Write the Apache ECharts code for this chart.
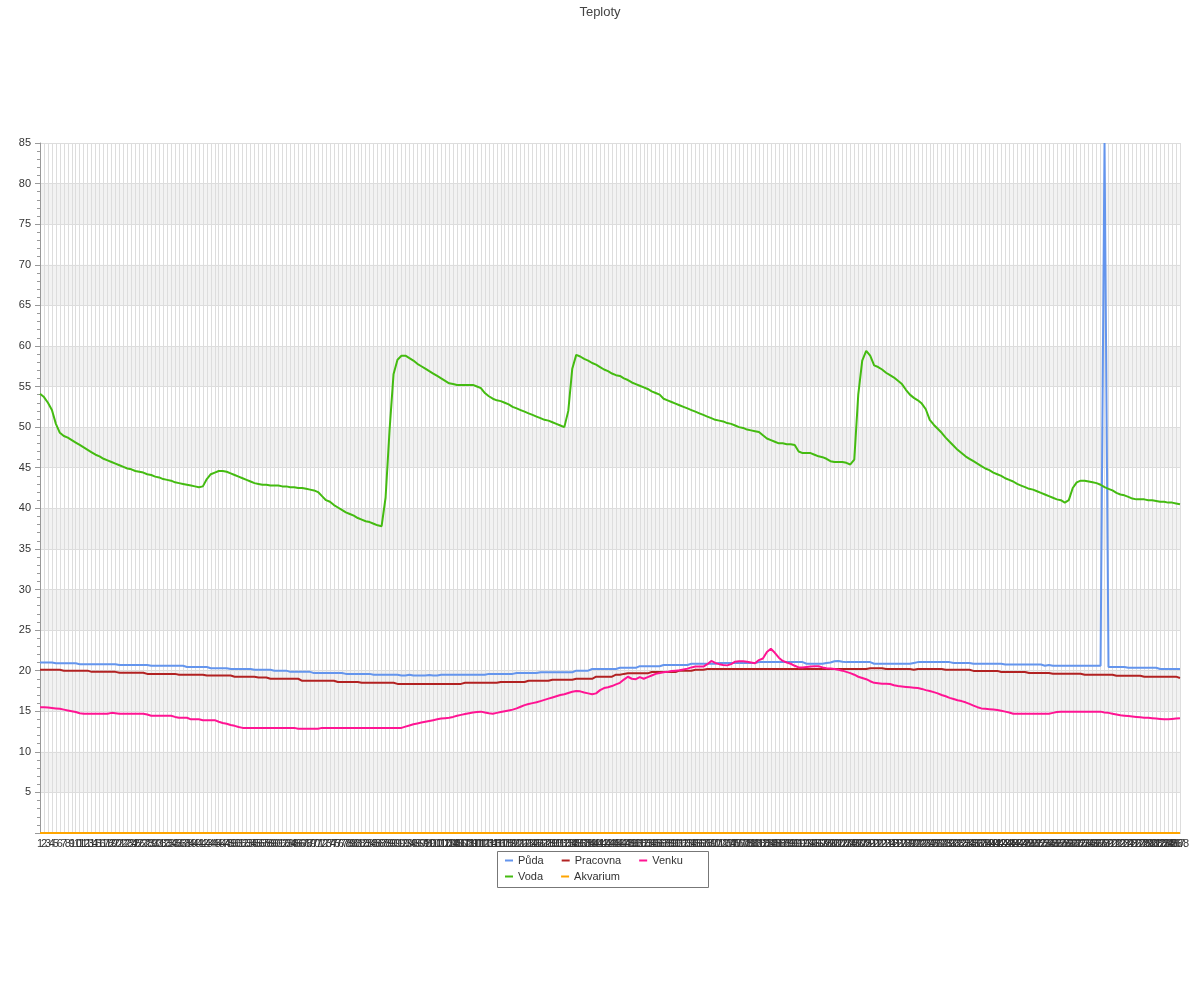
<!DOCTYPE html>
<html>
<head>
<meta charset="utf-8">
<script src="https://cdn.jsdelivr.net/npm/echarts@6/dist/echarts.min.js"></script>
<style>html,body{margin:0;padding:0;background:#fff;}#c{width:1200px;height:1000px;}</style>
</head>
<body>
<div id="c"></div>
<script>
var titleText = 'Teploty';
var seriesNames = ['Půda', 'Pracovna', 'Venku', 'Voda', 'Akvarium'];
var legendRow1 = ['Půda', 'Pracovna', 'Venku'];
var legendRow2 = ['Voda', 'Akvarium'];
var categories = Array.from({length: 288}, function (_, i) { return String(i + 1); });

var puda = [
21.0,21.0,21.0,21.0,20.9,20.9,20.9,20.9,20.9,20.9,
20.8,20.8,20.8,20.8,20.8,20.8,20.8,20.8,20.8,20.8,
20.7,20.7,20.7,20.7,20.7,20.7,20.7,20.7,20.6,20.6,
20.6,20.6,20.6,20.6,20.6,20.6,20.6,20.45,20.45,20.45,
20.45,20.45,20.45,20.3,20.3,20.3,20.3,20.3,20.2,20.2,
20.2,20.2,20.2,20.2,20.1,20.1,20.1,20.1,20.1,20.0,
20.0,20.0,20.0,19.85,19.85,19.85,19.85,19.85,19.85,19.7,
19.7,19.7,19.7,19.7,19.7,19.7,19.7,19.6,19.6,19.6,
19.6,19.6,19.6,19.6,19.5,19.5,19.5,19.5,19.5,19.5,
19.5,19.4,19.4,19.5,19.4,19.4,19.4,19.4,19.45,19.4,
19.4,19.5,19.5,19.5,19.5,19.5,19.5,19.5,19.5,19.5,
19.5,19.5,19.5,19.6,19.6,19.6,19.6,19.6,19.6,19.6,
19.7,19.7,19.7,19.7,19.7,19.7,19.8,19.8,19.8,19.8,
19.8,19.8,19.8,19.8,19.8,20.0,20.0,20.0,20.0,20.2,
20.2,20.2,20.2,20.2,20.2,20.2,20.35,20.35,20.35,20.35,
20.35,20.55,20.55,20.55,20.55,20.55,20.55,20.7,20.7,20.7,
20.7,20.7,20.7,20.7,20.85,20.85,20.85,20.85,20.85,20.85,
20.85,20.95,20.95,20.95,20.95,20.95,20.95,20.95,20.95,20.95,
20.95,21.05,21.05,21.05,21.05,21.05,21.05,21.05,21.05,21.05,
21.05,21.05,21.05,20.85,20.85,20.85,20.85,20.85,20.95,21.0,
21.15,21.2,21.1,21.05,21.05,21.05,21.05,21.05,21.05,21.05,
20.85,20.85,20.85,20.85,20.85,20.85,20.85,20.85,20.85,20.85,
20.95,21.05,21.05,21.05,21.05,21.05,21.05,21.05,21.05,21.05,
20.95,20.95,20.95,20.95,20.95,20.85,20.85,20.85,20.85,20.85,
20.85,20.85,20.85,20.75,20.75,20.75,20.75,20.75,20.75,20.75,
20.75,20.75,20.75,20.6,20.7,20.6,20.6,20.6,20.6,20.6,
20.6,20.6,20.6,20.6,20.6,20.6,20.6,20.6,85.0,20.45,
20.45,20.45,20.45,20.45,20.35,20.35,20.35,20.35,20.35,20.35,
20.35,20.35,20.2,20.2,20.2,20.2,20.2,20.2
];

var pracovna = [
20.1,20.1,20.1,20.1,20.1,20.1,20.0,20.0,20.0,20.0,
20.0,20.0,20.0,19.85,19.85,19.85,19.85,19.85,19.85,19.85,
19.75,19.75,19.75,19.75,19.75,19.75,19.75,19.6,19.6,19.6,
19.6,19.6,19.6,19.6,19.6,19.5,19.5,19.5,19.5,19.5,
19.5,19.5,19.4,19.4,19.4,19.4,19.4,19.4,19.4,19.25,
19.25,19.25,19.25,19.25,19.25,19.15,19.15,19.15,19.0,19.0,
19.0,19.0,19.0,19.0,19.0,19.0,18.75,18.75,18.75,18.75,
18.75,18.75,18.75,18.75,18.75,18.6,18.6,18.6,18.6,18.6,
18.6,18.5,18.5,18.5,18.5,18.5,18.5,18.5,18.5,18.5,
18.37,18.37,18.37,18.37,18.37,18.37,18.37,18.37,18.37,18.37,
18.37,18.37,18.37,18.37,18.37,18.37,18.37,18.5,18.5,18.5,
18.5,18.5,18.5,18.5,18.5,18.5,18.6,18.6,18.6,18.6,
18.6,18.6,18.6,18.75,18.75,18.75,18.75,18.75,18.75,18.88,
18.88,18.88,18.88,18.88,18.88,19.0,19.0,19.0,19.0,19.0,
19.26,19.26,19.26,19.26,19.26,19.5,19.5,19.6,19.67,19.67,
19.67,19.67,19.67,19.67,19.83,19.83,19.83,19.83,19.83,19.83,
19.83,20.0,20.0,20.0,20.0,20.1,20.1,20.1,20.2,20.2,
20.2,20.2,20.2,20.2,20.2,20.2,20.2,20.2,20.2,20.2,
20.2,20.2,20.2,20.2,20.2,20.2,20.2,20.2,20.2,20.2,
20.2,20.2,20.2,20.2,20.2,20.2,20.2,20.2,20.2,20.2,
20.2,20.2,20.2,20.2,20.2,20.2,20.2,20.2,20.2,20.3,
20.3,20.3,20.3,20.2,20.2,20.2,20.2,20.2,20.2,20.2,
20.1,20.2,20.2,20.2,20.2,20.2,20.2,20.2,20.1,20.1,
20.1,20.1,20.1,20.1,20.1,19.97,19.97,19.97,19.97,19.97,
19.97,19.97,19.83,19.83,19.83,19.83,19.83,19.83,19.83,19.7,
19.7,19.7,19.7,19.7,19.7,19.62,19.62,19.62,19.62,19.62,
19.62,19.62,19.62,19.5,19.5,19.5,19.5,19.5,19.5,19.5,
19.5,19.38,19.38,19.38,19.38,19.38,19.38,19.38,19.26,19.26,
19.26,19.26,19.26,19.26,19.26,19.26,19.26,19.1
];

var venku = [
15.5,15.5,15.45,15.4,15.35,15.3,15.2,15.1,15.0,14.9,
14.75,14.7,14.7,14.7,14.7,14.7,14.7,14.7,14.8,14.75,
14.7,14.7,14.7,14.7,14.7,14.7,14.7,14.6,14.45,14.45,
14.45,14.45,14.45,14.45,14.3,14.2,14.2,14.2,14.0,14.0,
14.0,13.9,13.9,13.9,13.9,13.7,13.55,13.45,13.3,13.2,
13.05,12.95,12.95,12.95,12.95,12.95,12.95,12.95,12.95,12.95,
12.95,12.95,12.95,12.95,12.95,12.85,12.85,12.85,12.85,12.85,
12.85,12.95,12.95,12.95,12.95,12.95,12.95,12.95,12.95,12.95,
12.95,12.95,12.95,12.95,12.95,12.95,12.95,12.95,12.95,12.95,
12.95,12.95,13.1,13.25,13.4,13.5,13.6,13.7,13.8,13.9,
14.0,14.1,14.15,14.2,14.3,14.45,14.55,14.65,14.75,14.85,
14.9,14.95,14.85,14.75,14.7,14.8,14.9,15.0,15.1,15.2,
15.35,15.55,15.75,15.9,16.0,16.1,16.25,16.4,16.55,16.7,
16.85,17.0,17.1,17.25,17.4,17.5,17.45,17.3,17.2,17.1,
17.2,17.6,17.85,17.95,18.1,18.3,18.5,18.9,19.25,19.0,
18.95,19.2,19.0,19.2,19.4,19.6,19.7,19.8,19.85,19.95,
20.0,20.05,20.15,20.25,20.4,20.5,20.5,20.5,20.8,21.2,
20.95,20.8,20.7,20.65,20.8,21.1,21.15,21.15,21.1,21.0,
20.9,21.3,21.5,22.3,22.7,22.2,21.6,21.2,21.0,20.85,
20.6,20.4,20.4,20.45,20.5,20.55,20.55,20.4,20.3,20.25,
20.2,20.1,20.0,19.85,19.7,19.5,19.25,19.1,18.95,18.7,
18.5,18.45,18.4,18.4,18.35,18.2,18.1,18.05,18.0,17.95,
17.9,17.85,17.75,17.6,17.5,17.35,17.2,17.0,16.85,16.65,
16.5,16.35,16.25,16.1,15.9,15.7,15.5,15.35,15.3,15.25,
15.2,15.15,15.05,14.95,14.85,14.7,14.7,14.7,14.7,14.7,
14.7,14.7,14.7,14.7,14.7,14.8,14.9,14.95,14.95,14.95,
14.95,14.95,14.95,14.95,14.95,14.95,14.95,14.95,14.85,14.8,
14.7,14.6,14.5,14.45,14.4,14.35,14.3,14.25,14.2,14.2,
14.15,14.1,14.05,14.0,14.0,14.05,14.1,14.15
];

var voda = [
54.1,53.7,53.0,52.1,50.4,49.3,48.9,48.7,48.4,48.1,
47.8,47.5,47.2,46.9,46.6,46.4,46.1,45.9,45.7,45.5,
45.3,45.1,44.9,44.8,44.6,44.5,44.4,44.2,44.1,43.9,
43.8,43.6,43.5,43.4,43.2,43.1,43.0,42.9,42.8,42.7,
42.6,42.7,43.6,44.2,44.4,44.6,44.6,44.5,44.3,44.1,
43.9,43.7,43.5,43.3,43.1,43.0,42.9,42.9,42.8,42.8,
42.8,42.7,42.7,42.6,42.6,42.5,42.5,42.4,42.3,42.2,
42.0,41.5,41.0,40.8,40.4,40.1,39.8,39.5,39.3,39.1,
38.8,38.6,38.4,38.3,38.1,37.9,37.8,41.3,49.6,56.5,
58.3,58.8,58.8,58.5,58.2,57.8,57.5,57.2,56.9,56.6,
56.3,56.0,55.7,55.4,55.3,55.2,55.2,55.2,55.2,55.2,
55.0,54.8,54.2,53.8,53.5,53.3,53.2,53.0,52.8,52.5,
52.3,52.1,51.9,51.7,51.5,51.3,51.1,50.9,50.8,50.6,
50.4,50.2,50.0,52.0,57.2,58.9,58.7,58.4,58.2,57.9,
57.7,57.4,57.1,56.9,56.6,56.4,56.3,56.0,55.8,55.5,
55.3,55.1,54.9,54.7,54.4,54.2,54.0,53.5,53.3,53.1,
52.9,52.7,52.5,52.3,52.1,51.9,51.7,51.5,51.3,51.1,
50.9,50.8,50.7,50.5,50.4,50.2,50.0,49.9,49.7,49.6,
49.5,49.4,49.0,48.6,48.4,48.2,48.0,48.0,47.9,47.9,
47.8,47.0,46.8,46.8,46.8,46.6,46.4,46.3,46.1,45.8,
45.7,45.7,45.7,45.6,45.4,46.0,54.0,58.2,59.4,58.8,
57.6,57.4,57.1,56.7,56.4,56.1,55.7,55.3,54.6,54.0,
53.6,53.3,52.9,52.2,50.9,50.3,49.8,49.3,48.7,48.2,
47.7,47.2,46.8,46.4,46.1,45.8,45.5,45.2,44.9,44.7,
44.4,44.2,44.0,43.7,43.5,43.3,43.0,42.8,42.6,42.4,
42.3,42.1,41.9,41.7,41.5,41.3,41.1,41.0,40.7,41.0,
42.5,43.2,43.4,43.4,43.3,43.2,43.1,42.9,42.6,42.4,
42.2,41.9,41.7,41.6,41.4,41.2,41.1,41.1,41.1,41.0,
41.0,40.9,40.8,40.8,40.7,40.7,40.6,40.5
];

var akvarium = [
0,0,0,0,0,0,0,0,0,0, 0,0,0,0,0,0,0,0,0,0, 0,0,0,0,0,0,0,0,0,0,
0,0,0,0,0,0,0,0,0,0, 0,0,0,0,0,0,0,0,0,0, 0,0,0,0,0,0,0,0,0,0,
0,0,0,0,0,0,0,0,0,0, 0,0,0,0,0,0,0,0,0,0, 0,0,0,0,0,0,0,0,0,0,
0,0,0,0,0,0,0,0,0,0, 0,0,0,0,0,0,0,0,0,0, 0,0,0,0,0,0,0,0,0,0,
0,0,0,0,0,0,0,0,0,0, 0,0,0,0,0,0,0,0,0,0, 0,0,0,0,0,0,0,0,0,0,
0,0,0,0,0,0,0,0,0,0, 0,0,0,0,0,0,0,0,0,0, 0,0,0,0,0,0,0,0,0,0,
0,0,0,0,0,0,0,0,0,0, 0,0,0,0,0,0,0,0,0,0, 0,0,0,0,0,0,0,0,0,0,
0,0,0,0,0,0,0,0,0,0, 0,0,0,0,0,0,0,0,0,0, 0,0,0,0,0,0,0,0,0,0,
0,0,0,0,0,0,0,0,0,0, 0,0,0,0,0,0,0,0,0,0, 0,0,0,0,0,0,0,0,0,0,
0,0,0,0,0,0,0,0,0,0, 0,0,0,0,0,0,0,0
];

var colors = ['#6495ED', '#B22222', '#FF1493', '#44BB11', '#FFA500'];
var yTicks = {min: 0, max: 85, step: 5};

var chart = echarts.init(document.getElementById('c'), null, {renderer: 'canvas'});
var datasets = [puda, pracovna, venku, voda, akvarium];

function legendRow(names, top) {
  return {
    left: 505, top: top, orient: 'horizontal',
    icon: 'rect', itemWidth: 8, itemHeight: 2, itemGap: 18,
    padding: 0,
    textStyle: {fontSize: 11, color: '#333'},
    data: names
  };
}

chart.setOption({
  animation: false,
  color: colors,
  title: {
    text: titleText, left: 'center', top: 1,
    textStyle: {fontSize: 13, fontWeight: 'normal', color: '#444'}
  },
  legend: [legendRow(legendRow1, 855), legendRow(legendRow2, 871)],
  graphic: [{
    type: 'rect', left: 495, top: 849, silent: true,
    shape: {width: 211, height: 36},
    style: {fill: 'none', stroke: '#777', lineWidth: 1}
  }],
  grid: {left: 40, right: 20, top: 143, bottom: 167, containLabel: false},
  xAxis: {
    type: 'category', data: categories, boundaryGap: false,
    axisLine: {show: true, lineStyle: {color: '#999'}},
    axisTick: {show: false},
    axisLabel: {interval: 0, fontSize: 11, color: '#333', margin: 5, hideOverlap: false},
    splitLine: {show: true, interval: 0, lineStyle: {color: '#dddddd', width: 1}}
  },
  yAxis: {
    type: 'value', min: yTicks.min, max: yTicks.max, interval: yTicks.step,
    axisLine: {show: true, lineStyle: {color: '#999'}},
    axisTick: {show: true, length: 5, lineStyle: {color: '#999'}},
    minorTick: {show: true, splitNumber: 5, length: 3, lineStyle: {color: '#999'}},
    axisLabel: {fontSize: 11, color: '#333', margin: 9,
      formatter: function (v) { return v === 0 ? '' : String(v); }},
    splitLine: {show: true, lineStyle: {color: '#dddddd'}},
    splitArea: {show: true, areaStyle: {color: ['rgba(255,255,255,0)', '#f2f2f2']}}
  },
  series: seriesNames.map(function (n, k) {
    return {
      name: n, type: 'line', data: datasets[k],
      showSymbol: false, symbol: 'none', smooth: false,
      lineStyle: {width: 2, color: colors[k]},
      itemStyle: {color: colors[k]},
      clip: true
    };
  })
});
</script>
</body>
</html>
